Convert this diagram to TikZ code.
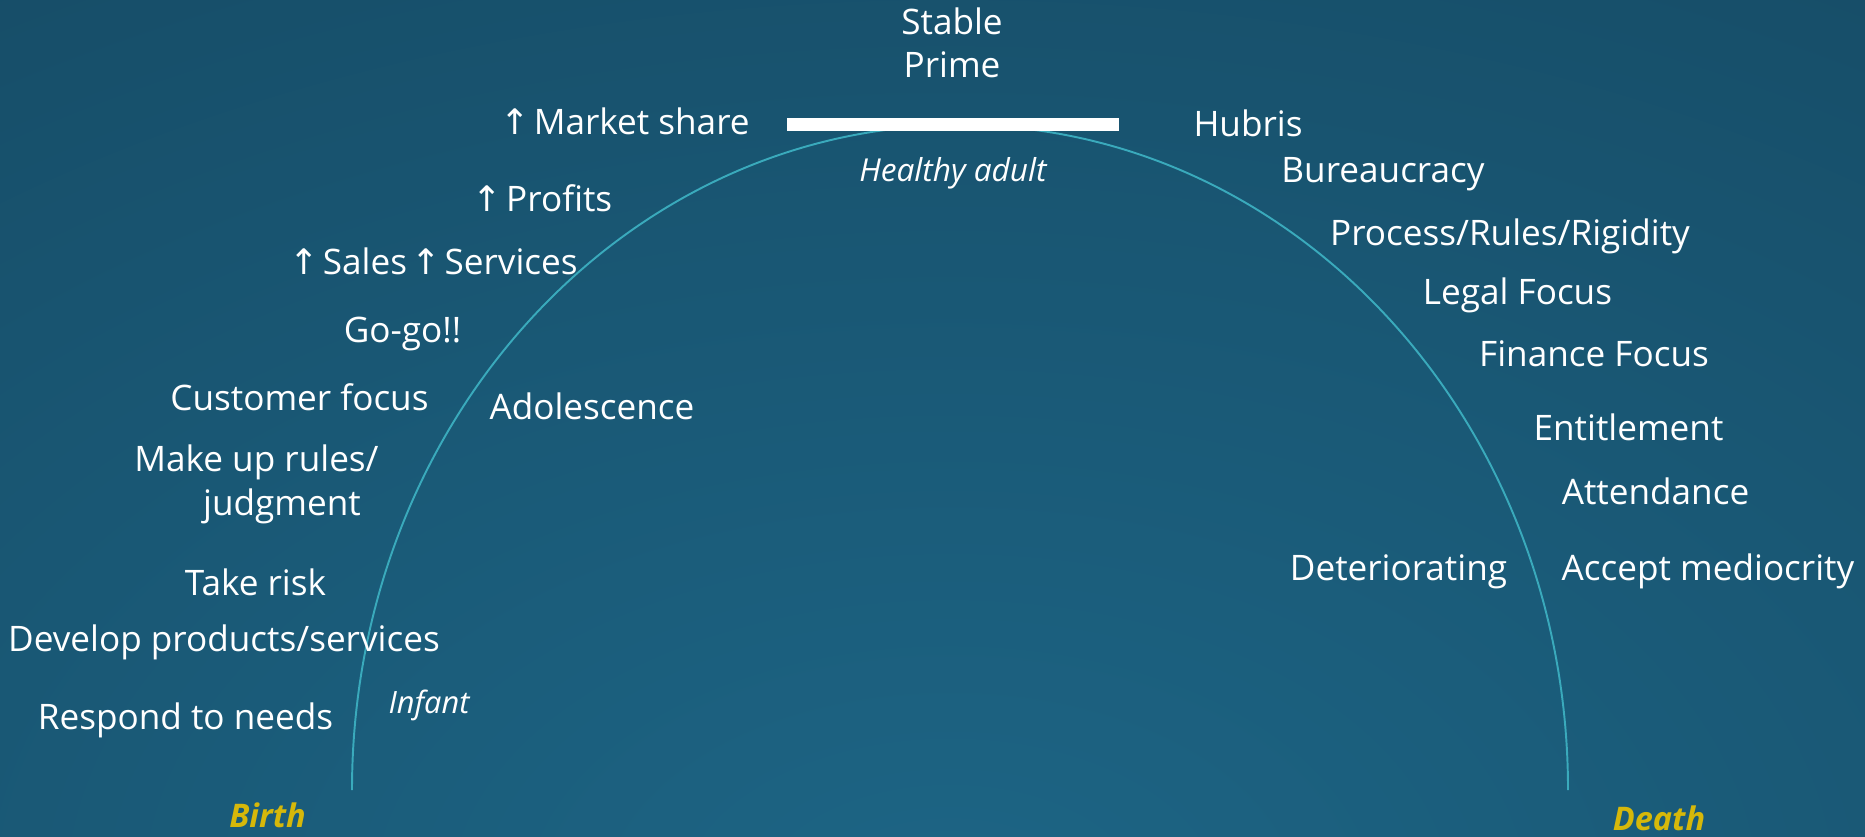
\documentclass[tikz,border=0pt]{standalone}
\usepackage{fontspec}
\setmainfont{Open Sans}
\newfontfamily\arrowfont{DejaVu Sans}
\usepackage{tikz}
\usetikzlibrary{positioning,calc}
\definecolor{bgdark}{RGB}{18,62,85}
\definecolor{bglight}{RGB}{29,101,133}
\definecolor{curve}{RGB}{58,170,188}
\definecolor{gold}{RGB}{214,184,10}
\tikzstyle{lbl}=[text=white,inner sep=0pt,anchor=base,font=\fontsize{20}{24}\selectfont]
\tikzstyle{stage}=[text=white,inner sep=0pt,anchor=base,font=\fontsize{17.5}{21}\selectfont\itshape]
\tikzstyle{endlbl}=[text=gold,inner sep=0pt,anchor=base,font=\fontsize{18.5}{22}\selectfont\bfseries\itshape]
\newcommand{\uparr}{\makebox[0.55em][c]{\arrowfont\char"2191}}

\begin{document}
\begin{tikzpicture}[x=0.02cm,y=-0.02cm]
\useasboundingbox (0,0) rectangle (1865,837);
% background
\fill[bgdark] (0,0) rectangle (1865,837);
\begin{scope}
  \clip (0,0) rectangle (1865,837);
  \shade[inner color=bglight,outer color=bgdark] (950,900) ellipse [x radius=3000,y radius=1800];
\end{scope}
% life curve and prime bar
\draw[curve,line width=1.1pt] (352,790) arc[start angle=180,end angle=360,x radius=608,y radius=665];
\fill[white] (787,118) rectangle (1119,131);
% top
\node[lbl] (stable) at (952,35) {Stable};
\node[lbl] (prime) at (952,78) {Prime};
\node[stage,font=\fontsize{18}{21}\selectfont\itshape] (healthy) at (953,182) {Healthy adult};
% growing side
\node[lbl] (market) at (627.5,135) {\uparr{} Market share};
\node[lbl] (profits) at (545,212) {\uparr{} Profits};
\node[lbl] (sales) at (436,275) {\uparr{} Sales \uparr{} Services};
\node[lbl] (gogo) at (402.5,343) {Go-go!!};
\node[lbl] (custfocus) at (299.5,411) {Customer focus};
\node[lbl] (adolesc) at (592,419) {Adolescence};
\node[lbl] (makeup) at (256.5,471) {Make up rules/};
\node[lbl] (judgment) at (282,515) {judgment};
\node[lbl] (takerisk) at (255.5,595) {Take risk};
\node[lbl] (develop) at (224,651) {Develop products/services};
\node[lbl] (respond) at (185.5,729) {Respond to needs};
\node[stage] (infant) at (429,713) {Infant};
\node[endlbl] (birth) at (267.5,827) {Birth};
% ageing side
\node[lbl] (hubris) at (1248,137) {Hubris};
\node[lbl] (bureau) at (1383,183) {Bureaucracy};
\node[lbl] (process) at (1510,246) {Process/Rules/Rigidity};
\node[lbl] (legal) at (1517.5,305) {Legal Focus};
\node[lbl] (finance) at (1594,367) {Finance Focus};
\node[lbl] (entitle) at (1628.5,440) {Entitlement};
\node[lbl] (attend) at (1655.5,504) {Attendance};
\node[lbl] (accept) at (1708,580) {Accept mediocrity};
\node[lbl] (deterior) at (1398.5,580) {Deteriorating};
\node[endlbl] (death) at (1659,830) {Death};
\end{tikzpicture}
\end{document}
